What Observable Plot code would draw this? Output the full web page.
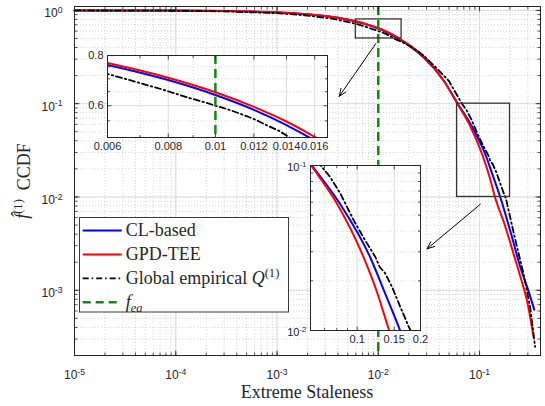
<!DOCTYPE html>
<html>
<head>
<meta charset="utf-8">
<script src="https://cdn.jsdelivr.net/npm/d3@7"></script>
<script src="https://cdn.jsdelivr.net/npm/@observablehq/plot@0.6"></script>
<style>
  html, body { margin: 0; padding: 0; background: #fff; }
  #chart { position: relative; width: 545px; height: 406px; overflow: hidden; background: #fff; }
  #chart > svg { position: absolute; overflow: visible; }
</style>
</head>
<body>
<div id="chart"></div>
<script>
// ---------------- data ----------------
// CL-based CCDF estimate
const clX = [1e-5, 1e-4, 3e-4, 1e-3, 2e-3, 3.5e-3, 0.006, 0.008, 0.01, 0.012, 0.014, 0.0156, 0.02, 0.0285, 0.0443, 0.061, 0.0833, 0.115, 0.135, 0.16, 0.201, 0.253, 0.3, 0.347];
const clY = [0.99935, 0.9943, 0.984, 0.950, 0.9066, 0.847, 0.758, 0.695, 0.638, 0.586, 0.537, 0.5, 0.422, 0.308, 0.176, 0.1, 0.058, 0.028, 0.0171, 0.01, 0.00434, 0.00177, 0.00103, 0.00062];

// GPD-TEE CCDF estimate
const gpdX = [1e-5, 1e-4, 3e-4, 1e-3, 2e-3, 3.5e-3, 0.006, 0.008, 0.01, 0.012, 0.014, 0.0161, 0.02, 0.0285, 0.0443, 0.0605, 0.08, 0.107, 0.125, 0.142, 0.18, 0.217, 0.255, 0.294, 0.342];
const gpdY = [0.9992, 0.9945, 0.9847, 0.9525, 0.91, 0.852, 0.766, 0.704, 0.648, 0.596, 0.548, 0.5, 0.43, 0.316, 0.176, 0.1, 0.059, 0.028, 0.0167, 0.01, 0.0048, 0.00245, 0.00136, 0.00078, 0.000316];

// Global empirical CCDF
const empX = [1e-5, 1e-4, 3e-4, 1e-3, 2e-3, 3.5e-3, 0.006, 0.0068, 0.00773, 0.0088, 0.0095, 0.01, 0.0105, 0.01129, 0.012, 0.0128, 0.0135, 0.0142, 0.017, 0.02, 0.025, 0.0285, 0.035, 0.0497, 0.0671, 0.0745, 0.0833, 0.0964, 0.108, 0.1222, 0.128, 0.135, 0.1414, 0.1467, 0.1606, 0.176, 0.182, 0.22, 0.272, 0.316, 0.354];
const empY = [0.9987, 0.9905, 0.976, 0.933, 0.88, 0.814, 0.72, 0.69, 0.66, 0.628, 0.612, 0.6, 0.59, 0.572, 0.556, 0.535, 0.52, 0.5, 0.46, 0.42, 0.36, 0.322, 0.26, 0.176, 0.1, 0.085, 0.0674, 0.0464, 0.036, 0.0278, 0.0242, 0.0225, 0.0201, 0.0183, 0.01384, 0.0105, 0.0097, 0.0039, 0.0015, 0.00066, 0.000247];

// threshold f_ea
const feaValue = [0.01];

// zoomed windows (main-plot rectangles and inset domains)
const boxX1 = [0.006, 0.06];
const boxX2 = [0.017, 0.2];
const boxY1 = [0.5, 0.01];
const boxY2 = [0.8, 0.1];

// pointer arrows from each window to its inset
const arrowFromX = [0.00945, 0.102];
const arrowFromY = [0.44, 0.00836];
const arrowToX = [0.00412, 0.0303];
const arrowToY = [0.12, 0.00278];

// tick values / labels
const mainXTicks = [1e-5, 1e-4, 1e-3, 1e-2, 1e-1];
const mainYTicks = [1e-3, 1e-2, 1e-1, 1];
const inset1XTicks = [0.006, 0.008, 0.01, 0.012, 0.014, 0.016];
const inset1XMinor = [0.007, 0.009];
const inset1YTicks = [0.6, 0.8];
const inset1YMinor = [0.55, 0.65, 0.7, 0.75];
const inset2XTicks = [0.1, 0.15, 0.2];
const inset2XMinor = [0.07, 0.08, 0.09];
const inset2YTicks = [0.01, 0.1];
const inset2YMinor = [0.02, 0.03, 0.04, 0.05, 0.06, 0.07, 0.08, 0.09];

const seriesNames = ["CL-based", "GPD-TEE", "Global empirical"];

// ---------------- tables ----------------
const toRows = (xs, ys) => xs.map((x, i) => ({x, y: ys[i]}));
const clData = toRows(clX, clY);
const gpdData = toRows(gpdX, gpdY);
const empData = toRows(empX, empY);
const boxes = boxX1.map((_, i) => ({x1: boxX1[i], x2: boxX2[i], y1: boxY1[i], y2: boxY2[i]}));
const arrows = arrowFromX.map((_, i) => ({x1: arrowFromX[i], y1: arrowFromY[i], x2: arrowToX[i], y2: arrowToY[i]}));

// ---------------- styles ----------------
const BLUE = "#0000ff", RED = "#ff0000", BLACK = "#000000", GREEN = "#118a11";
const AXIS = "#262626";
const GRID_MAJOR = "#dcdcdc", GRID_MINOR = "#c9c9c9";
const SANS = "'Liberation Sans', Arial, Helvetica, sans-serif";
const SERIF = "'Liberation Serif', 'Times New Roman', serif";
const DASHDOT = "6,3,1.5,3";
const DASHED = "9,5";

const powFmt = d => `10^${Math.round(Math.log10(d))}`;

function curveMarks(opts = {}) {
  return [
    Plot.line(clData, {x: "x", y: "y", stroke: BLUE, strokeWidth: 2, curve: "monotone-x", ...opts}),
    Plot.line(gpdData, {x: "x", y: "y", stroke: RED, strokeWidth: 2, curve: "monotone-x", ...opts}),
    Plot.line(empData, {x: "x", y: "y", stroke: BLACK, strokeWidth: 1.8, strokeDasharray: DASHDOT, ...opts})
  ];
}

// short inward tick marks on all four sides, positioned through the chart's scales
function innerTicks(svg, xs, ys, len) {
  const sx = svg.scale("x"), sy = svg.scale("y");
  const xl = Math.min(...sx.range), xr = Math.max(...sx.range);
  const yt = Math.min(...sy.range), yb = Math.max(...sy.range);
  let d = "";
  for (const v of xs) { const p = sx.apply(v); d += `M${p},${yb}v${-len}M${p},${yt}v${len}`; }
  for (const v of ys) { const p = sy.apply(v); d += `M${xl},${p}h${len}M${xr},${p}h${-len}`; }
  d3.select(svg).append("path").attr("d", d).attr("fill", "none")
    .attr("stroke", AXIS).attr("stroke-width", 0.8).attr("transform", "translate(0.5,0.5)");
}

// turn "10^k" tick labels into 10 with a raised exponent
function powerLabels(svg) {
  d3.select(svg).selectAll("text").each(function () {
    const m = /^10\^(-?\d+)$/.exec(this.textContent);
    if (!m) return;
    const t = d3.select(this);
    t.text(null);
    t.append("tspan").text("10");
    t.append("tspan").attr("dy", "-0.5em").attr("font-size", "0.72em").text(m[1]);
  });
}

const root = document.getElementById("chart");

// ---------------- main chart ----------------
const W = 545, H = 406;
const main = Plot.plot({
  width: W, height: H,
  marginLeft: 74, marginRight: 5, marginTop: 6, marginBottom: 51,
  x: {type: "log", domain: [1e-5, 0.4]},
  y: {type: "log", domain: [2e-4, 1.1]},
  style: {fontFamily: SANS, fontSize: "12px", color: AXIS, background: "white", overflow: "visible"},
  marks: [
    Plot.ruleX(d3.scaleLog().domain([1e-5, 0.4]).ticks(), {stroke: GRID_MINOR, strokeWidth: 0.8, strokeDasharray: "1,2"}),
    Plot.ruleY(d3.scaleLog().domain([2e-4, 1.1]).ticks(), {stroke: GRID_MINOR, strokeWidth: 0.8, strokeDasharray: "1,2"}),
    Plot.ruleX(mainXTicks, {stroke: GRID_MAJOR}),
    Plot.ruleY(mainYTicks, {stroke: GRID_MAJOR}),
    ...curveMarks(),
    Plot.ruleX(feaValue, {stroke: GREEN, strokeWidth: 2.5, strokeDasharray: DASHED}),
    Plot.rect(boxes, {x1: "x1", x2: "x2", y1: "y1", y2: "y2", fill: "none", stroke: "#333333", strokeWidth: 1.3}),
    Plot.arrow(arrows, {x1: "x1", y1: "y1", x2: "x2", y2: "y2", stroke: BLACK, strokeWidth: 1, headLength: 12, headAngle: 45}),
    Plot.frame({stroke: AXIS, strokeWidth: 1}),
    Plot.axisX(mainXTicks, {tickSize: 0, tickPadding: 15, tickFormat: powFmt, label: null}),
    Plot.axisY(mainYTicks, {tickSize: 0, tickPadding: 12, tickFormat: powFmt, dy: 3, label: null})
  ]
});
main.style.left = "0px"; main.style.top = "0px";
root.appendChild(main);
innerTicks(main, d3.scaleLog().domain([1e-5, 0.4]).ticks(), [], 3);
innerTicks(main, mainXTicks, mainYTicks, 5);
innerTicks(main, [], d3.scaleLog().domain([2e-4, 1.1]).ticks(), 3);
powerLabels(main);

// axis titles
const ms = d3.select(main);
ms.append("text")
  .attr("x", 307).attr("y", 398).attr("text-anchor", "middle")
  .attr("font-family", SERIF).attr("font-size", 18).attr("fill", AXIS)
  .text("Extreme Staleness");
const yl = ms.append("text")
  .attr("transform", "translate(28,181) rotate(-90)").attr("text-anchor", "middle")
  .attr("font-family", SERIF).attr("font-size", 18).attr("fill", AXIS);
yl.append("tspan").attr("font-style", "italic").text("f\u0302");
yl.append("tspan").attr("dy", "-0.45em").attr("font-size", "0.7em").text("(1)");
yl.append("tspan").attr("dy", "0.45em").text("\u2002CCDF");

// ---------------- insets ----------------
function inset({xDomain, yDomain, xTicks, xMinor, yTicks, yMinor, xFmt, yFmt, left, top, fw, fh, m, xMajorGrid, yMajorGrid, yLabelDy}) {
  const svg = Plot.plot({
    width: fw + m.l + m.r, height: fh + m.t + m.b,
    marginLeft: m.l, marginRight: m.r, marginTop: m.t, marginBottom: m.b,
    x: {type: "log", domain: xDomain, axis: null},
    y: {type: "log", domain: yDomain, axis: null},
    style: {fontFamily: SANS, fontSize: "11px", color: AXIS, background: "transparent", overflow: "visible"},
    marks: [
      Plot.frame({fill: "white"}),
      Plot.ruleX(xMinor, {stroke: GRID_MINOR, strokeWidth: 0.8, strokeDasharray: "1,2"}),
      Plot.ruleY(yMinor, {stroke: GRID_MINOR, strokeWidth: 0.8, strokeDasharray: "1,2"}),
      Plot.ruleX(xMajorGrid, {stroke: GRID_MAJOR}),
      Plot.ruleY(yMajorGrid, {stroke: GRID_MAJOR}),
      ...curveMarks({clip: true}),
      Plot.ruleX(feaValue.filter(v => v >= xDomain[0] && v <= xDomain[1]), {stroke: GREEN, strokeWidth: 2.5, strokeDasharray: DASHED}),
      Plot.frame({stroke: AXIS, strokeWidth: 1}),
      // tick labels
      Plot.text(xTicks, {x: d => d, text: xFmt, frameAnchor: "bottom", dy: 12, fill: AXIS}),
      Plot.text(yTicks, {y: d => d, text: yFmt, frameAnchor: "left", dx: -4, dy: yLabelDy, textAnchor: "end", fill: AXIS})
    ]
  });
  svg.style.left = `${left - m.l}px`;
  svg.style.top = `${top - m.t}px`;
  root.appendChild(svg);
  innerTicks(svg, xTicks, yTicks, 4);
  innerTicks(svg, xMinor, yMinor, 2.5);
  powerLabels(svg);
  return svg;
}

inset({
  xDomain: [boxX1[0], boxX2[0]], yDomain: [boxY1[0], boxY2[0]],
  xTicks: inset1XTicks, xMinor: inset1XMinor, yTicks: inset1YTicks, yMinor: inset1YMinor,
  xFmt: d => String(d), yFmt: d => String(d), yLabelDy: 0,
  xMajorGrid: inset1XTicks, yMajorGrid: [0.6],
  left: 106.7, top: 55, fw: 220, fh: 82, m: {l: 32, r: 14, t: 6, b: 22}
});

inset({
  xDomain: [boxX1[1], boxX2[1]], yDomain: [boxY1[1], boxY2[1]],
  xTicks: inset2XTicks, xMinor: inset2XMinor, yTicks: inset2YTicks, yMinor: inset2YMinor,
  xFmt: d => String(d), yFmt: powFmt, yLabelDy: 2,
  xMajorGrid: [0.1, 0.15], yMajorGrid: [],
  left: 310, top: 165, fw: 110, fh: 165, m: {l: 36, r: 14, t: 8, b: 22}
});

// ---------------- legend ----------------
const legendItems = [
  {parts: [{t: seriesNames[0]}], color: BLUE, dash: null, width: 2},
  {parts: [{t: seriesNames[1]}], color: RED, dash: null, width: 2},
  {parts: [{t: seriesNames[2] + " "}, {t: "Q", italic: true}, {t: "(1)", sup: true}], color: BLACK, dash: DASHDOT, width: 1.8},
  {parts: [{t: "f", italic: true}, {t: "ea", italic: true, sub: true}], color: GREEN, dash: "8,5", width: 2.5}
];
const LG = {left: 79, top: 216.7, w: 209, h: 94.5, row0: 13.5, step: 23.9};
const lg = d3.select(root).append("svg")
  .attr("width", LG.w + 2).attr("height", LG.h + 2)
  .style("left", `${LG.left}px`).style("top", `${LG.top}px`);
lg.append("rect").attr("x", 0.5).attr("y", 0.5).attr("width", LG.w).attr("height", LG.h)
  .attr("fill", "white").attr("stroke", "#3a3a3a").attr("stroke-width", 1);
legendItems.forEach((it, i) => {
  const cy = LG.row0 + i * LG.step;
  lg.append("line").attr("x1", 3.7).attr("x2", 42.7).attr("y1", cy).attr("y2", cy)
    .attr("stroke", it.color).attr("stroke-width", it.width)
    .attr("stroke-dasharray", it.dash);
  const t = lg.append("text").attr("x", 46.7).attr("y", cy).attr("dy", "0.33em")
    .attr("font-family", SERIF).attr("font-size", 18).attr("fill", AXIS);
  let shift = 0;
  it.parts.forEach(p => {
    const s = t.append("tspan").text(p.t);
    if (p.italic) s.attr("font-style", "italic");
    let target = 0;
    if (p.sup) { s.attr("font-size", "0.7em"); target = -7; }
    if (p.sub) { s.attr("font-size", "0.7em"); target = 4; }
    if (target !== shift) { s.attr("dy", target - shift); shift = target; }
  });
});
</script>
</body>
</html>
